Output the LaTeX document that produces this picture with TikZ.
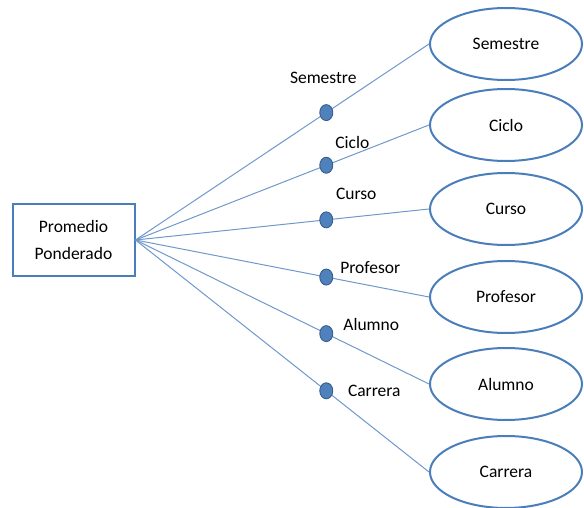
\documentclass[tikz,border=0pt]{standalone}
\usepackage{fontspec}
\setmainfont{Carlito}
\usetikzlibrary{shapes.geometric}

\definecolor{bordeazul}{HTML}{4A7EBB}
\definecolor{lineaazul}{HTML}{6F98CC}
\definecolor{puntoazul}{HTML}{4F81BD}
\definecolor{puntoborde}{HTML}{385D8A}

\tikzset{
    hecho/.style={rectangle, draw=bordeazul, line width=2pt, minimum width=122pt,
        minimum height=71pt, align=center, font=\fontsize{17.5}{27}\selectfont},
    dim/.style={ellipse, draw=bordeazul, line width=2pt, minimum width=152pt,
        minimum height=72pt, inner sep=0pt, font=\fontsize{17.5}{20}\selectfont},
    punto/.style={ellipse, fill=puntoazul, draw=puntoborde, line width=0.9pt,
        minimum width=13pt, minimum height=16pt, inner sep=0pt, pos=0.65},
    etiq/.style={font=\fontsize{17.5}{20}\selectfont, inner sep=0pt},
    enlace/.style={draw=lineaazul, line width=1pt}
}

\begin{document}
\begin{tikzpicture}[x=1pt,y=-1pt]
        \useasboundingbox (0,0) rectangle (584,508);

        \node[hecho] (pp) at (73.5,240) {Promedio\\Ponderado};

        \node[dim] (sem) at (506,44)  {Semestre};
        \node[dim] (cic) at (506,125) {Ciclo};
        \node[dim] (cur) at (506,209) {Curso};
        \node[dim] (pro) at (506,297) {Profesor};
        \node[dim] (alu) at (506,384) {Alumno};
        \node[dim] (car) at (506,472) {Carrera};

        \draw[enlace] (pp.east) -- node[punto,label={[etiq,xshift=-3pt,yshift=35pt]center:Semestre}] (psem) {} (sem.west);
        \draw[enlace] (pp.east) -- node[punto,label={[etiq,xshift=26pt,yshift=23pt]center:Ciclo}] (pcic) {} (cic.west);
        \draw[enlace] (pp.east) -- node[punto,label={[etiq,xshift=30pt,yshift=26pt]center:Curso}] (pcur) {} (cur.west);
        \draw[enlace] (pp.east) -- node[punto,label={[etiq,xshift=44pt,yshift=9pt]center:Profesor}] (ppro) {} (pro.west);
        \draw[enlace] (pp.east) -- node[punto,label={[etiq,xshift=45pt,yshift=9pt]center:Alumno}] (palu) {} (alu.west);
        \draw[enlace] (pp.east) -- node[punto,label={[etiq,xshift=48pt,yshift=0pt]center:Carrera}] (pcar) {} (car.west);
\end{tikzpicture}
\end{document}
